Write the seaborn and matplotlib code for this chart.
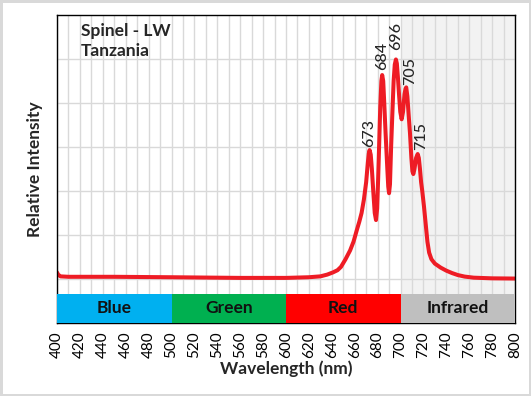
import numpy as np
import pandas as pd
import matplotlib
matplotlib.use('Agg')
import matplotlib.pyplot as plt
import seaborn as sns

# spectrum
wavelength = [400, 401, 403, 410, 450, 500, 540, 560, 600, 620,
              630, 636, 641, 645, 648, 652, 656, 659, 662, 664,
              666, 668, 670, 671.5, 672.3, 673, 674, 675, 676.2, 677.5,
              678.6, 679.6, 680.5, 681.3, 682.3, 683.3, 684, 684.9, 685.8, 687,
              688.5, 689.3, 690, 690.8, 691.8, 692.8, 694, 695, 696, 696.8,
              697.7, 698.7, 699.8, 701, 702.2, 703.5, 704.4, 705, 706, 707.2,
              708.3, 709.5, 710.4, 711.2, 712.2, 713.6, 715, 716, 717, 718,
              719, 720.5, 722, 723.5, 725, 727, 730, 735, 740, 745,
              750, 756, 764, 780, 800]
intensity = [0.03, 0.02, 0.012, 0.01, 0.01, 0.008, 0.006, 0.005, 0.005, 0.008,
             0.012, 0.02, 0.03, 0.04, 0.055, 0.09, 0.13, 0.17, 0.225, 0.26,
             0.30, 0.36, 0.44, 0.53, 0.57, 0.586, 0.565, 0.50, 0.40, 0.30,
             0.268, 0.32, 0.46, 0.60, 0.78, 0.90, 0.927, 0.90, 0.80, 0.66,
             0.50, 0.42, 0.39, 0.43, 0.60, 0.74, 0.90, 0.975, 0.998, 0.98,
             0.92, 0.84, 0.76, 0.726, 0.76, 0.84, 0.865, 0.871, 0.83, 0.74,
             0.662, 0.55, 0.49, 0.477, 0.50, 0.55, 0.568, 0.55, 0.50, 0.44,
             0.40, 0.33, 0.25, 0.17, 0.12, 0.09, 0.07, 0.052, 0.038, 0.027,
             0.018, 0.011, 0.006, 0.003, 0.002]

peaks = [673, 684, 696, 705, 715]
peak_dx = [0, 0, 0, 2.5, 2.5]    # label nudges in points
peak_dy = [2, 4, 7, 2, 3]

bands = ['Blue', 'Green', 'Red', 'Infrared']
band_start = [400, 500, 600, 700]
band_end = [500, 600, 700, 800]
band_colors = ['#00b0f0', '#00b050', '#ff0000', '#bfbfbf']

df = pd.DataFrame({'Wavelength': wavelength, 'Intensity': intensity})

sns.set_style('white')
plt.rcParams['font.family'] = ['Lato', 'DejaVu Sans']

fig = plt.figure(figsize=(5.31, 3.96), dpi=100)
fig.patch.set_edgecolor('#d9d9d9')
fig.patch.set_linewidth(2.5)
ax = fig.add_axes([57/531, 73/396, 458/531, 308/396])

ymin, ymax = -0.2, 1.2
band_top = -0.068

# infrared background
ax.axvspan(700, 800, color='#f2f2f2', zorder=0.1, lw=0)

sns.lineplot(data=df, x='Wavelength', y='Intensity', color='#ee1c25',
             lw=2.9, ax=ax, zorder=2)

# colour bands
ax.bar(band_start, band_top - ymin, width=np.subtract(band_end, band_start),
       bottom=ymin, align='edge', color=band_colors, lw=0, zorder=3)
for name, s, e in zip(bands, band_start, band_end):
    ax.text((s + e) / 2, (ymin + band_top) / 2, name, ha='center', va='center',
            fontsize=12.5, fontweight='bold', color='#111111', zorder=4)

# peak labels
for p, dx, dy in zip(peaks, peak_dx, peak_dy):
    y = intensity[wavelength.index(p)]
    ax.annotate(str(p), (p, y), xytext=(dx, dy), textcoords='offset points',
                rotation=90, ha='center', va='bottom', fontsize=11.5,
                fontweight='medium')

ax.text(0.052, 0.975, 'Spinel - LW\nTanzania', transform=ax.transAxes,
        ha='left', va='top', fontsize=12.5, fontweight='bold', linespacing=1.3)

ax.set_xlim(400, 800)
ax.set_ylim(ymin, ymax)
ax.set_xticks(np.arange(400, 801, 20))
ax.set_xticks(np.arange(400, 801, 10), minor=True)
ax.set_yticks(np.arange(0, 1.01, 0.2))
ax.set_yticklabels([])
ax.tick_params(axis='x', which='major', direction='out', length=4, width=1,
               labelrotation=90, labelsize=11, pad=2, colors='black')
ax.tick_params(axis='x', which='minor', length=0)
ax.tick_params(axis='y', direction='out', length=4, width=1, colors='black')
ax.set_axisbelow(True)
ax.grid(True, which='both', axis='x', color='#d9d9d9', lw=1)
ax.grid(True, which='major', axis='y', color='#d9d9d9', lw=1)
for sp in ax.spines.values():
    sp.set_color('black')
    sp.set_linewidth(1)

ax.set_xlabel('Wavelength (nm)', fontsize=12.5, fontweight='bold')
ax.set_ylabel('Relative Intensity', fontsize=12.5, fontweight='bold')
ax.xaxis.label.set_va('center')
ax.xaxis.set_label_coords(0.5, -46/308)
ax.yaxis.label.set_va('center')
ax.yaxis.set_label_coords(-22/458, 0.5)

fig.savefig('out.png', dpi=100)
